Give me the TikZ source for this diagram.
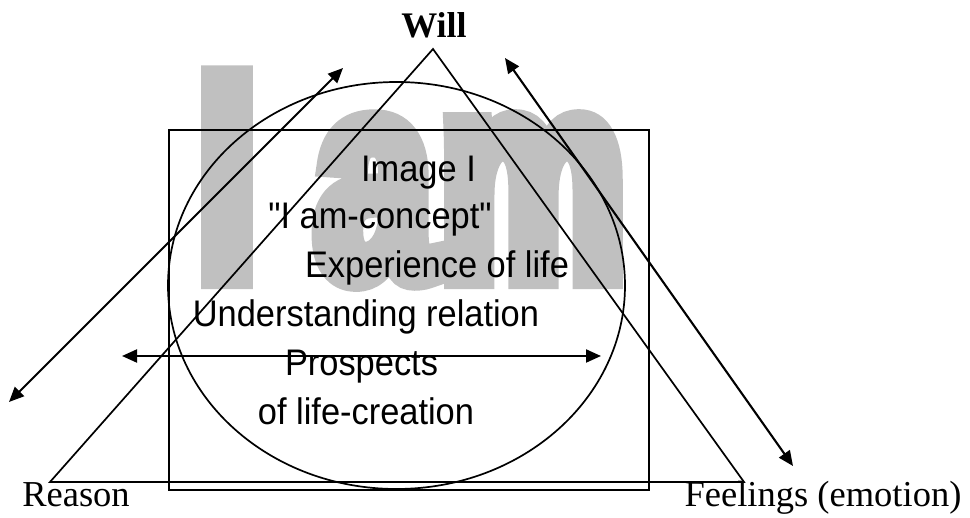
\documentclass[tikz,border=0pt]{standalone}
\usepackage{fontspec}
\usetikzlibrary{arrows.meta}
\setmainfont{Liberation Serif}
\newfontfamily\labelfont[FakeStretch=0.93,Ligatures=TeXOff]{Liberation Sans}
\newfontfamily\bigfont[FakeStretch=0.706,FakeBold=7.5]{Liberation Sans Bold}
\definecolor{biggray}{RGB}{192,192,192}
\begin{document}
\begin{tikzpicture}[x=1pt,y=-1pt,
  line/.style={line width=1.7pt},
  arr/.style={line width=2.1pt,{Triangle[length=15pt,width=13pt]}-{Triangle[length=15pt,width=13pt]}},
  inner/.style={font=\labelfont\fontsize{37}{37}\selectfont, inner sep=0pt, anchor=base},
  corner/.style={font=\fontsize{36.5}{36.5}\selectfont, inner sep=0pt, anchor=base},
  bigtext/.style={anchor=base west, inner sep=0pt, text=biggray, font=\bigfont\fontsize{293}{293}\selectfont}]
\useasboundingbox (0,0) rectangle (970,518);
% background word
\node[bigtext] (iam) at (198,278) {I\kern61pt a\kern9pt m};
% frame shapes
\draw[line] (169,130) rectangle (649,490);
\draw[line] (396.5,285.5) ellipse [x radius=228.5pt, y radius=203.5pt];
% triangle
\coordinate (apex) at (433,49);
\coordinate (bl) at (50,482);
\coordinate (br) at (744,482);
\draw[line] (apex) -- (bl) -- (br) -- cycle;
% arrows
\coordinate (a1s) at (343,68);
\coordinate (a1e) at (9,402);
\coordinate (a2s) at (505,58);
\coordinate (a2e) at (793,466);
\coordinate (a3s) at (122,356);
\coordinate (a3e) at (601,356);
\draw[arr] (a1s) -- (a1e);
\draw[arr] (a2s) -- (a2e);
\draw[arr] (a3s) -- (a3e);
% labels
\node[corner, font=\bfseries\fontsize{36}{36}\selectfont] (will) at (434,38) {Will};
\node[corner] (reason) at (76,507) {Reason};
\node[corner] (feel) at (823,507) {Feelings (emotion)};
\node[inner] (t1) at (418.5,182) {Image I};
\node[inner] (t2) at (380,229) {"I am-concept"};
\node[inner] (t3) at (437,278) {Experience of life};
\node[inner] (t4) at (366,327) {Understanding relation};
\node[inner] (t5) at (361.5,376) {Prospects};
\node[inner] (t6) at (366,425) {of life-creation};
\end{tikzpicture}
\end{document}
